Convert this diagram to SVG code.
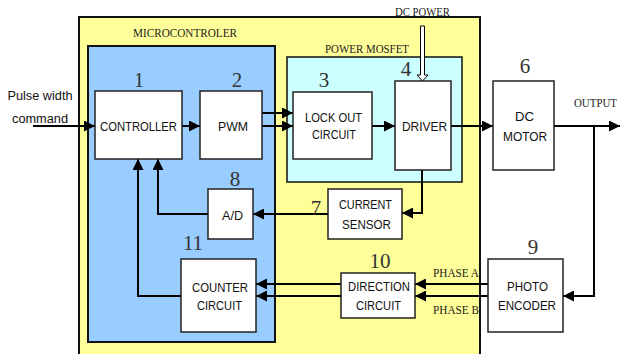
<svg xmlns="http://www.w3.org/2000/svg" width="620" height="354" viewBox="0 0 620 354">
<defs>
<marker id="ah" markerUnits="userSpaceOnUse" markerWidth="11" markerHeight="11" refX="10" refY="5" orient="auto" viewBox="0 0 10 10">
<path d="M0,0 L10,5 L0,10 z" fill="#000"/>
</marker>
<style>
.box{fill:#fff;stroke:#222;stroke-width:1.5}
.lbl{font-family:"Liberation Sans",Arial,sans-serif;font-size:13px;fill:#111;text-anchor:middle}
.num{font-family:"Liberation Serif","Times New Roman",serif;font-size:21px;fill:#333;text-anchor:middle}
.cap{font-family:"Liberation Serif","Times New Roman",serif;font-size:12px;fill:#222}
.ln{fill:none;stroke:#000;stroke-width:2}
.arr{marker-end:url(#ah)}
</style>
</defs>
<rect width="620" height="354" fill="#fff"/>
<g id="microcontroller-area">
<rect x="79" y="17" width="401" height="345" fill="#ffff99" stroke="#111" stroke-width="2"/>
<text class="cap" x="133" y="37" textLength="104" lengthAdjust="spacingAndGlyphs">MICROCONTROLER</text>
</g>
<g id="mcu-core">
<rect x="88" y="46" width="187" height="296" fill="#99ccff" stroke="#111" stroke-width="2"/>
</g>
<g id="power-mosfet">
<rect x="287" y="57" width="175" height="125" fill="#ccffff" stroke="#111" stroke-width="1.5"/>
<text class="cap" x="325" y="53" textLength="84" lengthAdjust="spacingAndGlyphs">POWER MOSFET</text>
</g>
<g id="connectors">
<path class="ln arr" d="M33,126 H95"/>
<path class="ln arr" d="M182,126 H200"/>
<path class="ln arr" d="M262,113 H293"/>
<path class="ln arr" d="M262,126 H293"/>
<path class="ln arr" d="M372,126 H395"/>
<path class="ln arr" d="M451,126 H493"/>
<path class="ln arr" d="M554,126 H620"/>
<path class="ln arr" d="M594,126 V296 H563"/>
<path class="ln arr" d="M422,170 V213 H402"/>
<path class="ln arr" d="M328,214 H253"/>
<path class="ln arr" d="M208,214 H158 V159"/>
<path class="ln arr" d="M181,296 H138 V159"/>
<path class="ln arr" d="M341,284 H256"/>
<path class="ln arr" d="M341,296 H256"/>
<path class="ln arr" d="M488,284 H415"/>
<path class="ln arr" d="M488,296 H415"/>
<path d="M420.5,26 H424.5 V75 H428 L422.5,81 L417,75 H420.5 Z" fill="#fff" stroke="#000" stroke-width="1"/>
</g>
<g id="input-label">
<text class="lbl" x="40" y="100" textLength="65" lengthAdjust="spacingAndGlyphs">Pulse width</text>
<text class="lbl" x="40" y="123" textLength="56" lengthAdjust="spacingAndGlyphs">command</text>
</g>
<g id="dc-power-label">
<text class="cap" x="395" y="16" textLength="55" lengthAdjust="spacingAndGlyphs">DC POWER</text>
</g>
<g id="output-label">
<text class="cap" x="574" y="107" textLength="43" lengthAdjust="spacingAndGlyphs">OUTPUT</text>
</g>
<g id="phase-labels">
<text class="cap" x="433" y="277" textLength="46" lengthAdjust="spacingAndGlyphs">PHASE A</text>
<text class="cap" x="433" y="314" textLength="46" lengthAdjust="spacingAndGlyphs">PHASE B</text>
</g>
<g id="n1-controller">
<rect class="box" x="95" y="91" width="87" height="68"/>
<text class="num" x="139" y="87">1</text>
<text class="lbl" x="138.5" y="131" textLength="77" lengthAdjust="spacingAndGlyphs">CONTROLLER</text>
</g>
<g id="n2-pwm">
<rect class="box" x="200" y="91" width="62" height="68"/>
<text class="num" x="237" y="87">2</text>
<text class="lbl" x="233" y="131" textLength="30" lengthAdjust="spacingAndGlyphs">PWM</text>
</g>
<g id="n3-lockout">
<rect class="box" x="293" y="92" width="79" height="67"/>
<text class="num" x="324" y="87">3</text>
<text class="lbl" x="333.5" y="122" textLength="57" lengthAdjust="spacingAndGlyphs">LOCK OUT</text>
<text class="lbl" x="334" y="139" textLength="44" lengthAdjust="spacingAndGlyphs">CIRCUIT</text>
</g>
<g id="n4-driver">
<rect class="box" x="395" y="81" width="56" height="89"/>
<text class="num" x="406" y="76">4</text>
<text class="lbl" x="424.5" y="131" textLength="45" lengthAdjust="spacingAndGlyphs">DRIVER</text>
</g>
<g id="n6-motor">
<rect class="box" x="493" y="81" width="61" height="89"/>
<text class="num" x="525" y="73">6</text>
<text class="lbl" x="524.5" y="121" textLength="19" lengthAdjust="spacingAndGlyphs">DC</text>
<text class="lbl" x="525" y="141" textLength="44" lengthAdjust="spacingAndGlyphs">MOTOR</text>
</g>
<g id="n7-current-sensor">
<rect class="box" x="328" y="189" width="74" height="50"/>
<text class="num" x="316" y="215">7</text>
<text class="lbl" x="365.5" y="209" textLength="53" lengthAdjust="spacingAndGlyphs">CURRENT</text>
<text class="lbl" x="366.5" y="229" textLength="49" lengthAdjust="spacingAndGlyphs">SENSOR</text>
</g>
<g id="n8-ad">
<rect class="box" x="208" y="189" width="45" height="50"/>
<text class="num" x="235" y="186">8</text>
<text class="lbl" x="232.5" y="220" textLength="21" lengthAdjust="spacingAndGlyphs">A/D</text>
</g>
<g id="n9-encoder">
<rect class="box" x="488" y="259" width="75" height="73"/>
<text class="num" x="533" y="254">9</text>
<text class="lbl" x="527.5" y="291" textLength="41" lengthAdjust="spacingAndGlyphs">PHOTO</text>
<text class="lbl" x="527" y="310" textLength="58" lengthAdjust="spacingAndGlyphs">ENCODER</text>
</g>
<g id="n10-direction">
<rect class="box" x="341" y="273" width="74" height="45"/>
<text class="num" x="380" y="268">10</text>
<text class="lbl" x="379" y="291" textLength="62" lengthAdjust="spacingAndGlyphs">DIRECTION</text>
<text class="lbl" x="378.5" y="310" textLength="45" lengthAdjust="spacingAndGlyphs">CIRCUIT</text>
</g>
<g id="n11-counter">
<rect class="box" x="181" y="259" width="75" height="73"/>
<text class="num" x="193" y="250">11</text>
<text class="lbl" x="220" y="292" textLength="56" lengthAdjust="spacingAndGlyphs">COUNTER</text>
<text class="lbl" x="219.5" y="310" textLength="45" lengthAdjust="spacingAndGlyphs">CIRCUIT</text>
</g>
</svg>
